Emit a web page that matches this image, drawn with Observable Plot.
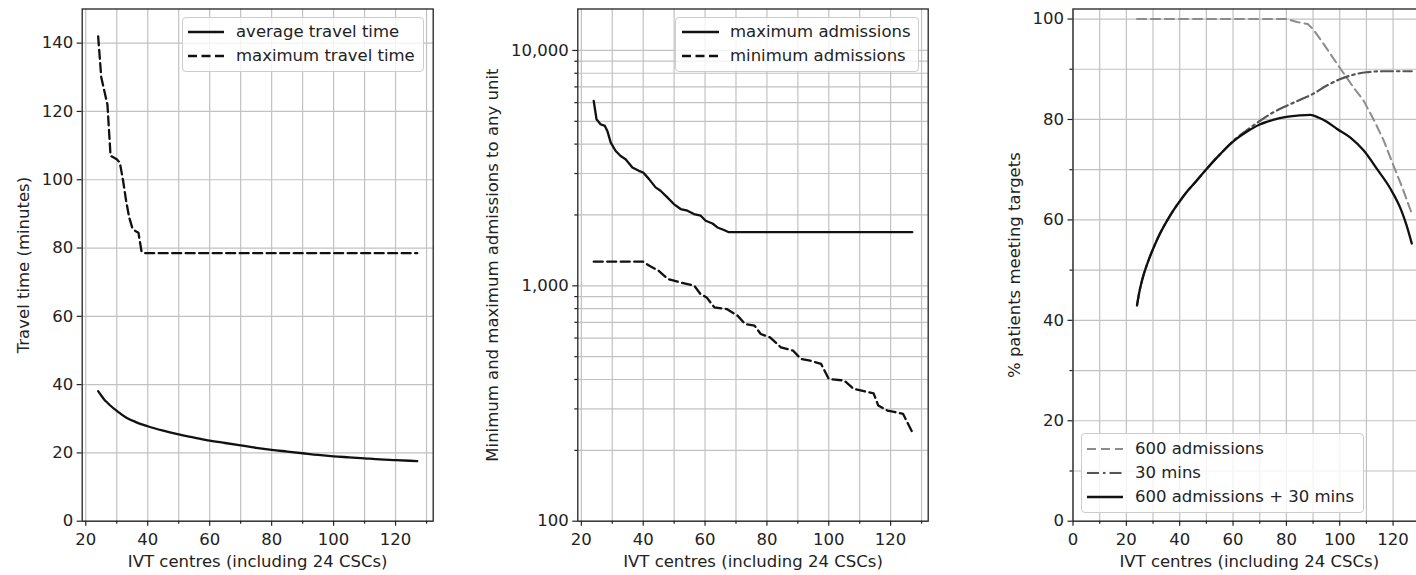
<!DOCTYPE html>
<html>
<head>
<meta charset="utf-8">
<script src="https://cdn.jsdelivr.net/npm/d3@7"></script>
<script src="https://cdn.jsdelivr.net/npm/@observablehq/plot@0.6"></script>
<style>
  html, body { margin: 0; padding: 0; background: #fff; }
  #root { position: relative; width: 1416px; height: 575px; overflow: hidden; background: #fff; }
  .panel { position: absolute; top: 0; }
  .panel svg { max-width: none !important; display: block; }
  .legend { position: absolute; box-sizing: border-box; background: rgba(255,255,255,0.8);
            border: 1px solid #cccccc; border-radius: 4px; font-family: "DejaVu Sans"; font-size: 16.5px; color: #222; }
  .legend .sample { position: absolute; overflow: visible; }
  .legend .lbl { position: absolute; white-space: nowrap; line-height: 20px; }
</style>
</head>
<body>
<div id="root"></div>
<script>
// ---------------- DATA ----------------
// Panel 1: travel time
const avgTravelCentres = [24, 25, 26, 27, 28, 30, 33, 36, 40, 45, 50, 55, 60, 65, 70, 75, 80, 85, 90, 95, 100, 105, 110, 115, 120, 127];
const avgTravelMinutes = [38.1, 36.8, 35.6, 34.7, 33.8, 32.3, 30.4, 29.1, 27.8, 26.5, 25.4, 24.5, 23.6, 22.9, 22.2, 21.5, 20.9, 20.4, 19.9, 19.4, 19.0, 18.7, 18.4, 18.1, 17.9, 17.6];
const maxTravelCentres = [24, 25, 26, 27, 28, 29, 30, 31, 32, 33, 34, 35, 36, 37, 38, 39, 127];
const maxTravelMinutes = [142, 130, 126, 122, 107, 106.5, 106, 105, 100, 94, 89, 86, 85, 84.5, 79, 78.5, 78.5];

// Panel 2: admissions (log scale)
const maxAdmCentres = [24, 24.9, 26.2, 27.6, 28.4, 29.5, 31.1, 32.7, 34.3, 36.5, 38.6, 40, 41.9, 44, 45.6, 47.8, 49.9, 52.1, 54.3, 56.4, 58.6, 60.2, 62.4, 64, 66.1, 67.7, 127];
const maxAdmValues  = [6100, 5100, 4860, 4780, 4550, 4060, 3740, 3560, 3450, 3180, 3080, 3030, 2840, 2620, 2535, 2375, 2225, 2120, 2085, 2018, 1985, 1890, 1840, 1770, 1726, 1690, 1690];
const minAdmCentres = [24, 40, 42, 45, 48, 52, 56.5, 58.5, 60.5, 63, 67, 70.5, 73, 76, 78, 81, 84.5, 88.5, 91, 94, 97.5, 100, 105, 108, 114.5, 116, 119, 124, 127];
const minAdmValues  = [1266, 1266, 1217, 1159, 1069, 1034, 1001, 923, 893, 810, 797, 747, 688, 677, 624, 604, 548, 530, 489, 481, 466, 402, 396, 365, 349, 310, 295, 286, 239];

// Panel 3: % patients meeting targets
const adm600Centres = [24, 80, 84, 88, 90, 94, 100, 105, 109, 113, 116.5, 120, 123.4, 127];
const adm600Pct     = [100, 100, 99.4, 99, 98, 95, 90.3, 86.5, 83.7, 79.7, 75.8, 71, 66.5, 61.3];
const mins30Centres = [24, 25, 26, 28, 30, 32, 35, 38, 40, 43, 46, 50, 55, 60, 65, 70, 75, 80, 85, 90, 95, 100, 105, 110, 116, 127];
const mins30Pct     = [43, 46, 48.2, 51.5, 54.2, 56.6, 59.6, 62.2, 63.7, 65.8, 67.6, 70.1, 73, 75.7, 77.8, 79.7, 81.4, 82.7, 83.9, 85.1, 86.7, 88.0, 88.9, 89.4, 89.6, 89.6];
const bothCentres   = [24, 25, 26, 28, 30, 32, 35, 38, 40, 43, 46, 50, 55, 60, 65, 70, 75, 80, 85, 89, 92, 95, 99, 104, 109, 114, 119, 123, 125, 127];
const bothPct       = [43, 46, 48.2, 51.5, 54.2, 56.6, 59.6, 62.2, 63.7, 65.8, 67.6, 70.1, 73, 75.6, 77.5, 79, 79.9, 80.5, 80.8, 80.9, 80.4, 79.6, 78.1, 76.4, 73.8, 70.1, 66.2, 62, 59, 55.3];

// Ticks
const xTicksMajor = [20, 40, 60, 80, 100, 120];
const xTicksMinor = [30, 50, 70, 90, 110, 130];
const xTicksMajor3 = [0, 20, 40, 60, 80, 100, 120];
const xTicksMinor3 = [10, 30, 50, 70, 90, 110, 130];
const travelTicks = [0, 20, 40, 60, 80, 100, 120, 140];
const admTicksMajor = [100, 1000, 10000];
const admTicksMinor = [200, 300, 400, 500, 600, 700, 800, 900, 2000, 3000, 4000, 5000, 6000, 7000, 8000, 9000];
const pctTicksMajor = [0, 20, 40, 60, 80, 100];
const pctTicksMinor = [10, 30, 50, 70, 90];

const xLabel = "IVT centres (including 24 CSCs)";

// ---------------- HELPERS ----------------
const zip = (xs, ys) => xs.map((x, i) => ({x, y: ys[i]}));
const GRID = {stroke: "#c2c2c2", strokeOpacity: 1, strokeWidth: 1.2};
const INK = "#222";
const baseStyle = {fontFamily: "DejaVu Sans", fontSize: "16.5px", background: "transparent", color: INK, overflow: "visible"};
const root = document.getElementById("root");

function place(svg, left) {
  const d = document.createElement("div");
  d.className = "panel";
  d.style.left = left + "px";
  d.appendChild(svg);
  root.appendChild(d);
}

function axesMarks({xMajor, xMinor, yMajor, yMinor, yFormat, yLabel, yLabelOffset}) {
  const m = [
    Plot.axisX(xMajor, {tickSize: 5, tickPadding: 7, strokeWidth: 1.2, label: xLabel, labelAnchor: "center", labelArrow: "none", labelOffset: 45.6}),
    Plot.axisX(xMinor, {tickSize: 3, strokeWidth: 1.2, tickFormat: () => "", label: null}),
    Plot.axisY(yMajor, {tickSize: 5, tickPadding: 4, strokeWidth: 1.2, tickFormat: yFormat, label: yLabel, labelAnchor: "center", labelArrow: "none", labelOffset: yLabelOffset})
  ];
  if (yMinor) m.push(Plot.axisY(yMinor, {tickSize: 3, strokeWidth: 1.2, tickFormat: () => "", label: null}));
  m.push(Plot.frame({stroke: INK, strokeWidth: 1.3}));
  return m;
}

function legend({left, top, width, height, rows, sampleLeft, sampleLen, textLeft, rowGap}) {
  const box = document.createElement("div");
  box.className = "legend";
  Object.assign(box.style, {left: left + "px", top: top + "px", width: width + "px", height: height + "px"});
  const firstCenter = height / 2 - (rows.length - 1) * rowGap / 2 - 1;
  rows.forEach((r, i) => {
    const cy = firstCenter + i * rowGap;
    const svg = document.createElementNS("http://www.w3.org/2000/svg", "svg");
    svg.setAttribute("class", "sample");
    svg.setAttribute("width", sampleLen);
    svg.setAttribute("height", 10);
    svg.style.left = (sampleLeft - left - 1) + "px";
    svg.style.top = (cy - 5) + "px";
    const ln = document.createElementNS("http://www.w3.org/2000/svg", "line");
    ln.setAttribute("x1", 0); ln.setAttribute("x2", sampleLen);
    ln.setAttribute("y1", 5); ln.setAttribute("y2", 5);
    ln.setAttribute("stroke", r.stroke);
    ln.setAttribute("stroke-width", r.width);
    if (r.dash) ln.setAttribute("stroke-dasharray", r.dash);
    svg.appendChild(ln);
    box.appendChild(svg);
    const t = document.createElement("span");
    t.className = "lbl";
    t.textContent = r.label;
    t.style.left = (textLeft - left - 1) + "px";
    t.style.top = (cy - 10) + "px";
    box.appendChild(t);
  });
  root.appendChild(box);
}

const DASH = "9,4.5";
const GRAY_DASH = "9,5";
const DASH_DOT = "12,4,2.5,4";

// ---------------- PANEL 1 ----------------
place(Plot.plot({
  width: 460, height: 575,
  marginLeft: 81.7, marginRight: 27.3, marginTop: 8.5, marginBottom: 54.3,
  style: baseStyle,
  x: {domain: [18.85, 132.15]},
  y: {domain: [0, 150]},
  marks: [
    Plot.gridX([...xTicksMajor, ...xTicksMinor], GRID),
    Plot.gridY(travelTicks, GRID),
    Plot.line(zip(maxTravelCentres, maxTravelMinutes), {x: "x", y: "y", stroke: "#111", strokeWidth: 2.3, strokeDasharray: DASH}),
    Plot.line(zip(avgTravelCentres, avgTravelMinutes), {x: "x", y: "y", stroke: "#111", strokeWidth: 2.3, curve: "monotone-x"}),
    ...axesMarks({xMajor: xTicksMajor, xMinor: xTicksMinor, yMajor: travelTicks, yLabel: "Travel time (minutes)", yLabelOffset: 65.4})
  ]
}), 0);

// ---------------- PANEL 2 ----------------
place(Plot.plot({
  width: 470, height: 575,
  marginLeft: 100.3, marginRight: 19.3, marginTop: 8.5, marginBottom: 54.3,
  style: baseStyle,
  x: {domain: [18.85, 132.15]},
  y: {type: "log", domain: [100, 15000]},
  marks: [
    Plot.gridX([...xTicksMajor, ...xTicksMinor], GRID),
    Plot.gridY([...admTicksMajor, ...admTicksMinor], GRID),
    Plot.line(zip(minAdmCentres, minAdmValues), {x: "x", y: "y", stroke: "#111", strokeWidth: 2.3, strokeDasharray: DASH}),
    Plot.line(zip(maxAdmCentres, maxAdmValues), {x: "x", y: "y", stroke: "#111", strokeWidth: 2.3}),
    ...axesMarks({xMajor: xTicksMajor, xMinor: xTicksMinor, yMajor: admTicksMajor, yMinor: admTicksMinor, yFormat: d3.format(","), yLabel: "Minimum and maximum admissions to any unit", yLabelOffset: 92})
  ]
}), 477);

// ---------------- PANEL 3 ----------------
place(Plot.plot({
  width: 470, height: 575,
  marginLeft: 100.5, marginRight: 17, marginTop: 8.5, marginBottom: 54.3,
  style: baseStyle,
  x: {domain: [0, 132.15]},
  y: {domain: [0, 102]},
  marks: [
    Plot.gridX([...xTicksMajor3, ...xTicksMinor3], GRID),
    Plot.gridY([...pctTicksMajor, ...pctTicksMinor], GRID),
    Plot.line(zip(adm600Centres, adm600Pct), {x: "x", y: "y", stroke: "#8c8c8c", strokeWidth: 2, strokeDasharray: GRAY_DASH}),
    Plot.line(zip(mins30Centres, mins30Pct), {x: "x", y: "y", stroke: "#555", strokeWidth: 2.2, strokeDasharray: DASH_DOT, curve: "monotone-x"}),
    Plot.line(zip(bothCentres, bothPct), {x: "x", y: "y", stroke: "#111", strokeWidth: 2.3, curve: "monotone-x"}),
    ...axesMarks({xMajor: xTicksMajor3, xMinor: xTicksMinor3, yMajor: pctTicksMajor, yMinor: pctTicksMinor, yLabel: "% patients meeting targets", yLabelOffset: 65.2})
  ]
}), 972);

// ---------------- LEGENDS ----------------
legend({left: 182, top: 16.5, width: 241.5, height: 55, rowGap: 24, sampleLeft: 188, sampleLen: 36, textLeft: 236,
  rows: [
    {label: "average travel time", stroke: "#111", width: 2.3},
    {label: "maximum travel time", stroke: "#111", width: 2.3, dash: DASH}
  ]});
legend({left: 675, top: 16.7, width: 244.3, height: 55, rowGap: 24, sampleLeft: 682, sampleLen: 37, textLeft: 730,
  rows: [
    {label: "maximum admissions", stroke: "#111", width: 2.3},
    {label: "minimum admissions", stroke: "#111", width: 2.3, dash: DASH}
  ]});
legend({left: 1081, top: 433.3, width: 283, height: 79.4, rowGap: 24, sampleLeft: 1087, sampleLen: 36, textLeft: 1135,
  rows: [
    {label: "600 admissions", stroke: "#8c8c8c", width: 2, dash: GRAY_DASH},
    {label: "30 mins", stroke: "#555", width: 2.2, dash: DASH_DOT},
    {label: "600 admissions + 30 mins", stroke: "#111", width: 2.3}
  ]});
</script>
</body>
</html>
